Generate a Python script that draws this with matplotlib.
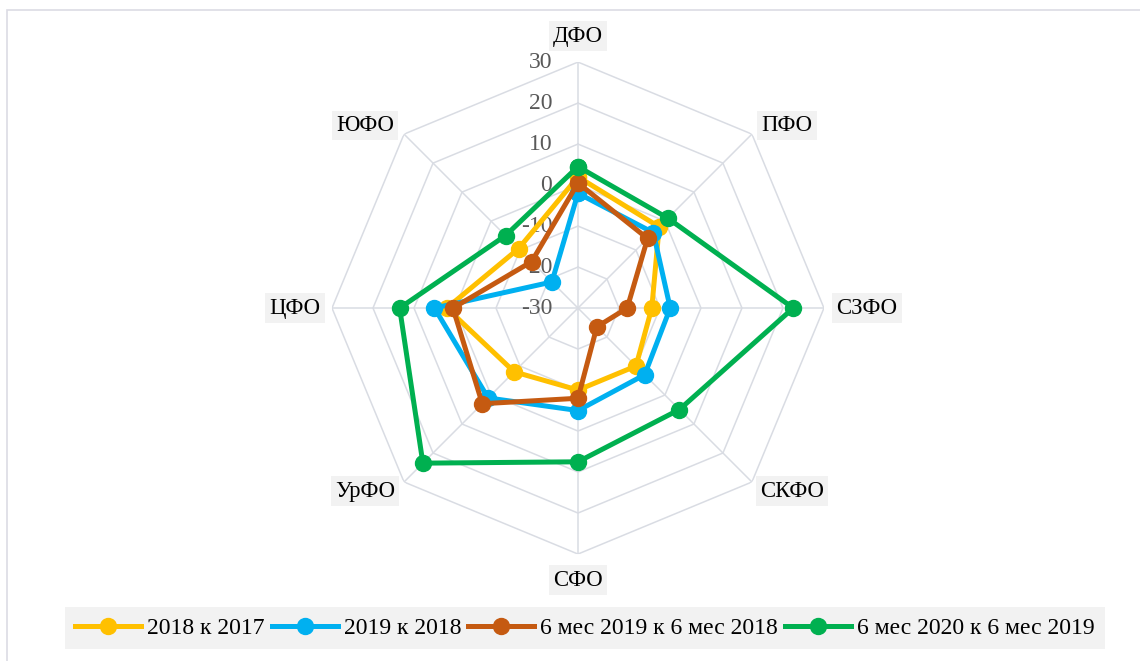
import matplotlib.pyplot as plt
import numpy as np
from matplotlib.patches import Rectangle

categories = ['ДФО', 'ПФО', 'СЗФО', 'СКФО', 'СФО', 'УрФО', 'ЦФО', 'ЮФО']
series_names = ['2018 к 2017', '2019 к 2018', '6 мес 2019 к 6 мес 2018', '6 мес 2020 к 6 мес 2019']
y2018 = [2, -2, -12, -10, -10, -8, 2, -9.5]
y2019 = [-2, -4, -7.5, -7, -5, 1, 5, -21]
h2019 = [0.5, -6, -18, -23.5, -8, 3, 0.5, -14]
h2020 = [4.5, 1, 22.5, 5, 7.5, 23.5, 13.5, -5]
levels = [-30, -20, -10, 0, 10, 20, 30]

colors = ['#FFC000', '#00B0F0', '#C55A11', '#00B050']
grid_color = '#D9DCE3'
serif = ['Liberation Serif', 'DejaVu Serif']

fig = plt.figure(figsize=(11.4, 6.61), dpi=100)
fig.patch.set_facecolor('white')
fig.add_artist(Rectangle((7 / 1140, -0.05), 1.1, 1 - 10 / 661 + 0.05, transform=fig.transFigure,
                         facecolor='none', edgecolor='#DCDCE4', linewidth=1.2))

ax = fig.add_axes([0.2912, 0.1618, 0.4316, 0.7443], projection='polar')
ax.set_theta_zero_location('N')
ax.set_theta_direction(-1)
ax.set_ylim(-30, 30)
ax.set_axis_off()

theta = np.arange(len(categories)) * 2 * np.pi / len(categories)
theta_closed = np.append(theta, theta[0])

# octagon grid
for lvl in levels[1:]:
    ax.plot(theta_closed, [lvl] * len(theta_closed), color=grid_color, lw=1.1, zorder=0)
for t in theta:
    ax.plot([t, t], [-30, 30], color=grid_color, lw=1.1, zorder=0)

# radial tick labels
for lvl in levels:
    ax.annotate(str(lvl), xy=(0, lvl), xytext=(-18.5, 0), textcoords='offset points',
                ha='right', va='center', fontsize=17, color='#595959', family=serif,
                annotation_clip=False)

# category labels
offsets = [(0, -26), (35, -9), (43, 0), (40, 9), (0, 26), (-39, 9), (-37, 0), (-39, -9)]
for t, name, (dx, dy) in zip(theta, categories, offsets):
    ax.annotate(name, xy=(t, 30), xytext=(dx * 0.72, -dy * 0.72), textcoords='offset points',
                ha='center', va='center', fontsize=16.4, color='black', family=serif,
                bbox=dict(facecolor='#F2F2F2', edgecolor='none', pad=3),
                annotation_clip=False)

for vals, name, c in zip([y2018, y2019, h2019, h2020], series_names, colors):
    v = np.append(vals, vals[0])
    ax.plot(theta_closed, v, color=c, lw=3.6, marker='o', markersize=11.5, label=name,
            solid_joinstyle='round', zorder=3)

leg = fig.legend(loc='center', bbox_to_anchor=(585 / 1140, 1 - 628 / 661), ncol=4,
                 prop={'family': serif, 'size': 17}, frameon=True, fancybox=False,
                 facecolor='#F2F2F2', edgecolor='none', framealpha=1,
                 handlelength=2.8, handletextpad=0.25, columnspacing=0.3, borderpad=0.45)
for line in leg.get_lines():
    line.set_linewidth(3.6)
    line.set_markersize(11.5)

fig.savefig('out.png', dpi=100, facecolor='white')
